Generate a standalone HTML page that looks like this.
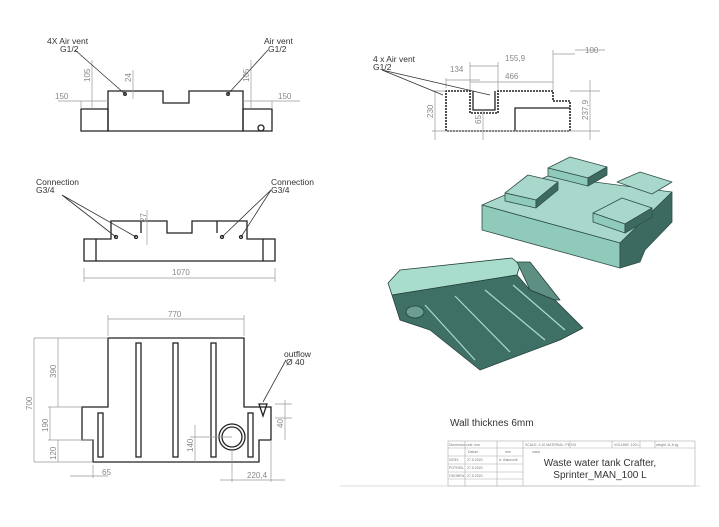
<!DOCTYPE html>
<html><head><meta charset="utf-8"><style>
html,body{margin:0;padding:0;background:#fff}
svg{display:block}
text{font-family:"Liberation Sans",sans-serif;}
</style></head><body>
<svg width="719" height="527" viewBox="0 0 719 527" xmlns="http://www.w3.org/2000/svg">
<rect width="719" height="527" fill="#fff"/>
<g fill="none" stroke="#222" stroke-width="1.3">
<!-- top-left front view -->
<path d="M108,131 V91 H163 V103 H189 V91 H243 V131 Z"/>
<path d="M81,109 H108 V131 H81 Z M243,109 H272 V131 H243 Z"/>
<circle cx="261" cy="128" r="3"/>
<circle cx="125" cy="94" r="1.3"/><circle cx="228" cy="94" r="1.3"/>
<!-- second view -->
<path d="M84,239 H111 V221 H167 V233 H192 V221 H247 V239 H275 V261 H84 Z"/>
<path d="M141,221 V233 M217,221 V233 M96,239 V261 M263,239 V261"/>
<circle cx="116" cy="237" r="1.5"/><circle cx="136" cy="237" r="1.5"/>
<circle cx="222" cy="237" r="1.5"/><circle cx="241" cy="237" r="1.5"/>
<!-- right top section -->
<path d="M446,131 V91 H470 V113 H498 V91 H553 V101 H570 V131 Z" stroke-dasharray="2 1" stroke-width="1.6"/>
<path d="M515,131 V108 H570 M473,91 V110 H495 V91"/>
<!-- bottom plan view -->
<path d="M108,338 H244 V407 H271 V440 H259 V462 H93 V440 H82 V407 H108 Z"/>
<rect x="136" y="343" width="5" height="114"/><rect x="173" y="343" width="5" height="114"/><rect x="211" y="343" width="5" height="114"/>
<rect x="98" y="413" width="5" height="44"/><rect x="248" y="413" width="5" height="44"/>
<circle cx="232" cy="437" r="13"/><circle cx="232" cy="437" r="10"/>
<path d="M259,404 L263,416 L267,404 Z"/>
</g>
<!-- dimension lines -->
<g stroke="#999" stroke-width="0.7" fill="none">
<path d="M58,101 H108 M81,101 V109 M243,101 H300 M272,101 V109 M92,60 V109 M251,60 V109 M133,70 V99"/>
<path d="M84,268 V282 M275,268 V282 M84,278 H275 M147,210 V245"/>
<path d="M446,78 V88 M446,80 H480 M470,62 V90 M470,66 H498 M498,62 V90 M470,82 H553 M553,50 V90 M553,54 H575 M575,50 H605 M435,91 V140 M590,80 V140 M432,91 H446 M570,91 H600 M483,110 V140 M432,131 H600"/>
<path d="M108,315 V336 M244,315 V336 M108,319 H244 M34,338 V462 M34,338 H108 M34,462 H93 M58,338 V407 M50,407 V440 M58,440 V462 M48,407 H82 M48,440 H93 M93,465 V478 M70,476 H108 M195,425 V462 M190,437 H232 M285,400 V440 M275,404 H292 M275,418 H292 M232,450 V482 M220,480 H285 M271,440 V482"/>
</g>
<g stroke="#333" stroke-width="0.8" fill="none">
<path d="M75,50 L125,94 M268,50 L228,94"/>
<path d="M62,195 L116,237 M62,195 L136,237 M271,190 L222,237 M271,190 L241,237"/>
<path d="M382,70 L443,95 M382,70 L490,95"/>
<path d="M286,360 L263,402"/>
</g>
<!-- labels -->
<g font-size="8.5" fill="#333">
<text x="47" y="44">4X  Air vent</text><text x="60" y="52">G1/2</text>
<text x="264" y="44">Air vent</text><text x="268" y="52">G1/2</text>
<text x="36" y="185">Connection</text><text x="36" y="193">G3/4</text>
<text x="271" y="185">Connection</text><text x="271" y="193">G3/4</text>
<text x="373" y="62">4 x  Air vent</text><text x="373" y="70">G1/2</text>
<text x="284" y="357">outflow</text><text x="286" y="365">Ø 40</text>
</g>
<g font-size="8" fill="#888">
<text x="55" y="99">150</text><text x="278" y="99">150</text>
<text transform="translate(90,82) rotate(-90)">105</text>
<text transform="translate(131,82) rotate(-90)">24</text>
<text transform="translate(249,82) rotate(-90)">105</text>
<text transform="translate(146,222) rotate(-90)">27</text>
<text x="172" y="275">1070</text>
<text x="450" y="72">134</text><text x="505" y="61">155,9</text><text x="505" y="79">466</text><text x="585" y="53">100</text>
<text transform="translate(433,118) rotate(-90)">230</text>
<text transform="translate(588,120) rotate(-90)">237,9</text>
<text transform="translate(481,124) rotate(-90)">65</text>
<text x="168" y="317">770</text>
<text transform="translate(32,410) rotate(-90)">700</text>
<text transform="translate(56,378) rotate(-90)">390</text>
<text transform="translate(48,432) rotate(-90)">190</text>
<text transform="translate(56,460) rotate(-90)">120</text>
<text x="102" y="475">65</text><text x="247" y="478">220,4</text>
<text transform="translate(193,452) rotate(-90)">140</text>
<text transform="translate(283,428) rotate(-90)">40</text>
</g>
<!-- upper 3D -->
<g stroke="#2f4f48" stroke-width="0.8" stroke-linejoin="round">
<polygon points="482,205 548,176 672,192 620,243" fill="#a8d8cb"/>
<polygon points="482,205 620,243 620,268 482,230" fill="#8fcabb"/>
<polygon points="620,243 672,192 672,222 645,250 640,262 620,268" fill="#3d6a60"/>
<polygon points="505,193 528,175 558,182 536,200" fill="#a8d8cb"/>
<polygon points="505,193 536,200 536,208 505,201" fill="#8fcabb"/>
<polygon points="536,200 558,182 558,190 536,208" fill="#3d6a60"/>
<polygon points="548,168 570,157 607,167 588,178" fill="#a8d8cb"/>
<polygon points="548,168 588,178 588,186 548,176" fill="#8fcabb"/>
<polygon points="588,178 607,167 607,175 588,186" fill="#3d6a60"/>
<polygon points="617,182 640,172 672,182 652,194" fill="#a8d8cb"/>
<polygon points="593,213 622,198 652,208 625,224" fill="#a8d8cb"/>
<polygon points="593,213 625,224 625,233 593,222" fill="#8fcabb"/>
<polygon points="625,224 652,208 652,217 625,233" fill="#3d6a60"/>
</g>
<!-- lower 3D -->
<g stroke="#24403a" stroke-width="0.8" stroke-linejoin="round">
<polygon points="388,283 400,270 512,258 520,265 517,275 392,295" fill="#a8dccc"/>
<polygon points="392,295 517,275 530,290 555,300 583,328 560,340 480,370 430,330 400,320" fill="#3f7066"/>
<polygon points="517,262 530,262 560,300 555,300 530,290" fill="#5d8f83"/>
<ellipse cx="415" cy="312" rx="9" ry="6" fill="#6c9d91"/>
</g>
<g stroke="#a8dccc" stroke-width="1.2">
<path d="M425,305 L475,360 M455,296 L510,352 M485,290 L545,340 M513,285 L565,330"/>
</g>
<!-- title block -->
<text x="450" y="426" font-size="10" fill="#333">Wall thicknes 6mm</text>
<g stroke="#aaa" stroke-width="0.6" fill="none">
<rect x="448" y="441" width="247" height="45"/>
<path d="M448,448 H695 M465,441 V486 M497,441 V486 M523,441 V486 M448,456 H523 M448,464 H523 M448,472 H523 M448,479 H523 M570,441 V448 M612,441 V448 M640,441 V448 M655,441 V448"/>
<path d="M340,486 H700" stroke="#bbb"/>
</g>
<g font-size="3.5" fill="#777">
<text x="449" y="446">Dimension unit: mm</text><text x="525" y="446">SCALE: 1:10 MATERIAL: PE HD</text><text x="614" y="446">VOLUME: 100 L</text><text x="656" y="446">weight 11,6 kg</text>
<text x="468" y="453">Datum</text><text x="505" y="453">Ime</text>
<text x="449" y="461">IZDEL</text><text x="467" y="461">27.5.2020</text><text x="499" y="461">A. Bakovnik</text>
<text x="449" y="469">POTRDIL</text><text x="467" y="469">27.5.2020</text>
<text x="449" y="477">ODOBRIL</text><text x="467" y="477">27.5.2020</text>
<text x="532" y="453">naziv</text>
</g>
<text x="600" y="466" font-size="10" fill="#333" text-anchor="middle">Waste water tank Crafter,</text>
<text x="600" y="478" font-size="10" fill="#333" text-anchor="middle">Sprinter_MAN_100 L</text>
</svg>
</body></html>
